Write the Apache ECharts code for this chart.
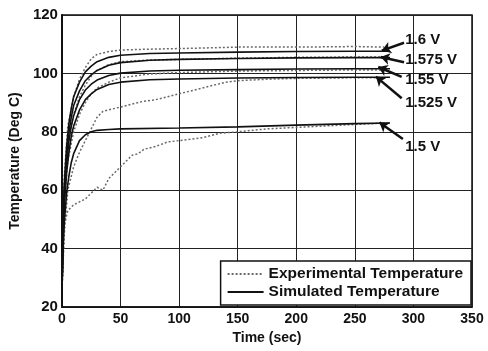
<!DOCTYPE html>
<html>
<head>
<meta charset="utf-8">
<script src="https://cdn.jsdelivr.net/npm/echarts@6/dist/echarts.min.js"></script>
<style>
  html, body { margin: 0; padding: 0; background: #fff; }
  #chart { width: 488px; height: 351px; }
</style>
</head>
<body>
<div id="chart"></div>
<script>
// axis ticks
const xTicks = [0, 50, 100, 150, 200, 250, 300, 350];
const yTicks = [20, 40, 60, 80, 100, 120];

// simulated curves, [time (sec), temp (deg C)]
const sim16 = [[0,25],[1,50],[2,62],[4,75],[6,83],[8,88],[10,92],[15,97],[20,100.5],[25,102.5],[30,104],[40,105.5],[50,106.2],[75,106.8],[100,107],[150,107.3],[200,107.5],[250,107.6],[280,107.6]];
const sim1575 = [[0,25],[1,48],[2,60],[4,72],[6,80],[8,85],[10,89],[15,94],[20,97.5],[25,99.5],[30,101],[40,102.8],[50,103.7],[75,104.5],[100,104.8],[150,105.1],[200,105.3],[250,105.4],[280,105.4]];
const sim155 = [[0,25],[1,46],[2,57],[4,69],[6,77],[8,82],[10,85.5],[15,91],[20,94.3],[25,96.3],[30,97.7],[40,99.3],[50,100.1],[75,100.8],[100,101.1],[150,101.3],[200,101.5],[250,101.6],[280,101.6]];
const sim1525 = [[0,25],[1,44],[2,55],[4,66],[6,73],[8,78.5],[10,82],[15,87.5],[20,91],[25,93],[30,94.5],[40,96.2],[50,97],[75,97.8],[100,98.1],[150,98.4],[200,98.6],[250,98.7],[280,98.7]];
const sim15 = [[0,25],[1,40],[2,49],[4,59],[6,65],[8,69.5],[10,72.5],[15,77],[20,79],[25,80],[30,80.5],[40,80.8],[50,81],[100,81.3],[150,81.7],[200,82.3],[250,82.8],[280,83]];

// experimental curves
const exp16 = [[0,25],[2,65],[5,82],[10,92],[15,98],[20,102],[25,105],[30,106.5],[40,107.5],[50,108],[75,108.3],[100,108.5],[150,109],[200,109],[250,109.2],[275,109]];
const exp1575 = [[0,25],[2,60],[5,76],[10,86],[15,92],[20,96],[25,99],[30,101],[40,103],[50,104],[75,104.6],[100,104.8],[150,105.2],[200,105.5],[250,105.6],[275,105.6]];
const exp155 = [[0,25],[2,55],[5,70],[10,80],[15,86],[20,90],[25,93],[30,95],[40,97],[50,98.5],[75,99.8],[100,100.3],[150,100.8],[200,101],[250,101.2],[275,101.2]];
const exp1525 = [[0,25],[2,45],[5,60],[10,68],[15,73],[20,77],[25,81],[30,85],[35,87],[40,87.5],[50,88.5],[60,89.5],[70,90.5],[80,91],[90,92],[100,93],[110,94],[120,95],[130,96],[140,97],[150,97.5],[175,98],[200,98.3],[250,98.5],[275,98.5]];
const exp15 = [[0,25],[2,48],[5,53],[10,55],[15,56],[20,57],[25,59],[30,61],[35,60],[40,64],[45,66],[50,68],[55,70],[60,72],[65,72.5],[70,74],[80,75],[90,76.5],[100,77],[110,77.5],[120,78],[135,79.5],[150,80],[175,81],[200,81.5],[225,82],[250,82.5],[275,83]];

// voltage labels and arrows (data coords)
const voltLabels = [
  { name: '1.6 V', coord: [293, 111.4] },
  { name: '1.575 V', coord: [293, 104.6] },
  { name: '1.55 V', coord: [293, 97.7] },
  { name: '1.525 V', coord: [293, 89.9] },
  { name: '1.5 V', coord: [293, 74.8] }
];
const arrows = [
  [[292, 110.5], [273, 107.8]],
  [[292, 103.8], [272, 105.6]],
  [[290, 98.8], [270, 102.2]],
  [[290, 91.5], [268, 98.9]],
  [[291, 77.5], [271, 83.2]]
];

const font = 'Liberation Sans, Arial, sans-serif';
const EXP = 'Experimental Temperature';
const SIM = 'Simulated Temperature';

const chart = echarts.init(document.getElementById('chart'));

function expSeries(data) {
  return {
    name: EXP, type: 'line', data: data, symbol: 'none', z: 3,
    lineStyle: { color: '#6a6a6a', width: 1.5, type: [2, 2] },
    itemStyle: { color: '#6a6a6a' }
  };
}
function simSeries(data) {
  return {
    name: SIM, type: 'line', data: data, symbol: 'none', z: 4,
    lineStyle: { color: '#111', width: 1.6 },
    itemStyle: { color: '#111' }
  };
}

const series = [
  expSeries(exp16), expSeries(exp1575), expSeries(exp155), expSeries(exp1525), expSeries(exp15),
  simSeries(sim16), simSeries(sim1575), simSeries(sim155), simSeries(sim1525), simSeries(sim15)
];

// annotations hang off the first simulated series
series[5].markLine = {
  silent: true,
  symbol: ['none', 'arrow'],
  symbolSize: 9,
  label: { show: false },
  lineStyle: { color: '#111', width: 2.5, type: 'solid' },
  data: arrows.map(a => [{ coord: a[0] }, { coord: a[1] }])
};
series[5].markPoint = {
  silent: true,
  symbol: 'circle',
  symbolSize: 0,
  label: {
    show: true, position: 'right', distance: 0,
    formatter: p => p.name,
    color: '#111', fontFamily: font, fontSize: 15, fontWeight: 'bold'
  },
  data: voltLabels
};

chart.setOption({
  animation: false,
  backgroundColor: '#fff',
  grid: { left: 60, right: 16, top: 15, bottom: 44, show: true, borderColor: '#111', borderWidth: 1.5 },
  legend: {
    data: [EXP, SIM],
    orient: 'vertical',
    right: 17, bottom: 46,
    backgroundColor: '#fff',
    borderColor: '#111', borderWidth: 1.5,
    padding: [5, 8, 5, 6],
    itemGap: 2,
    itemWidth: 36, itemHeight: 10,
    selectedMode: false,
    itemStyle: { opacity: 0 },
    textStyle: { color: '#111', fontFamily: font, fontSize: 15.5, fontWeight: 'bold' }
  },
  xAxis: {
    type: 'value', min: 0, max: 350, interval: 50,
    name: 'Time (sec)', nameLocation: 'middle', nameGap: 22,
    nameTextStyle: { color: '#111', fontFamily: font, fontSize: 14, fontWeight: 'bold' },
    axisLine: { lineStyle: { color: '#111', width: 1.5 } },
    axisTick: { show: false },
    axisLabel: { color: '#111', fontFamily: font, fontSize: 14, fontWeight: 'bold', margin: 5,
      formatter: v => xTicks.includes(v) ? String(v) : '' },
    splitLine: { lineStyle: { color: '#222', width: 1 } }
  },
  yAxis: {
    type: 'value', min: 20, max: 120, interval: 20,
    name: 'Temperature (Deg C)', nameLocation: 'middle', nameGap: 34,
    nameTextStyle: { color: '#111', fontFamily: font, fontSize: 14, fontWeight: 'bold' },
    axisLine: { lineStyle: { color: '#111', width: 2 } },
    axisTick: { show: false },
    axisLabel: { color: '#111', fontFamily: font, fontSize: 15, fontWeight: 'bold', margin: 4,
      formatter: v => yTicks.includes(v) ? String(v) : '' },
    splitLine: { lineStyle: { color: '#222', width: 1 } }
  },
  series: series
});
</script>
</body>
</html>
